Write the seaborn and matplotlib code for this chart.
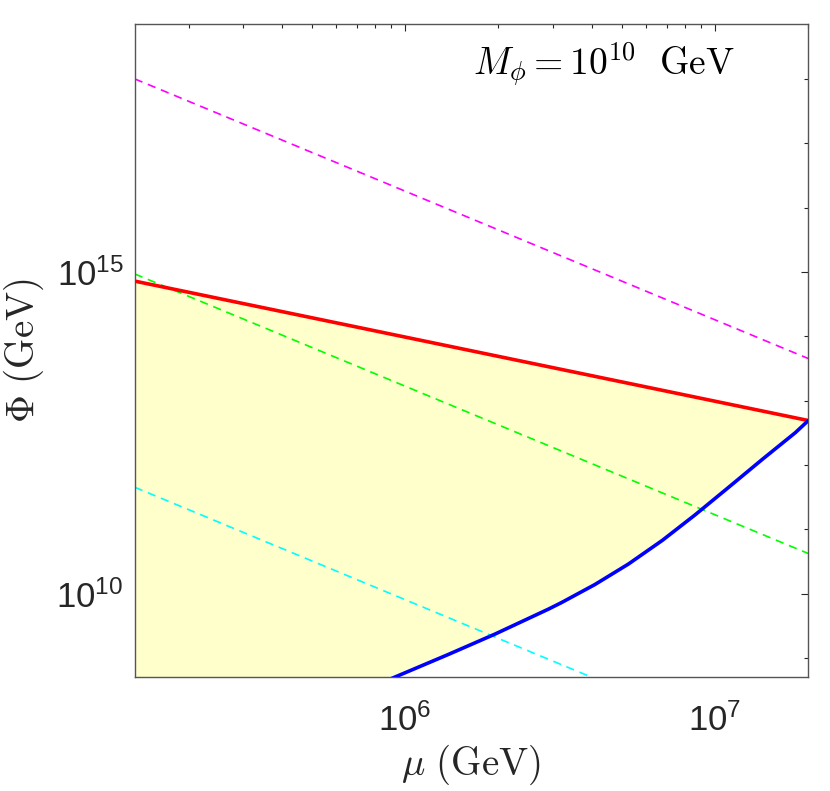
import numpy as np
import pandas as pd
import seaborn as sns
import matplotlib
matplotlib.use("Agg")
import matplotlib.pyplot as plt
import matplotlib.ticker as mticker

# axis ranges and ticks
mu_range = [1.34e5, 2.0e7]
phi_range = [5.0e8, 7.2e18]
x_major = [1e6, 1e7]
y_major = [1e10, 1e15]
y_minor = [1e9, 1e11, 1e12, 1e13, 1e14, 1e16, 1e17, 1e18]

# straight lines (end points at the axis edges)
mu_ends = [1.34e5, 2.0e7]
phi_red = [7.2e14, 4.9e12]
phi_magenta = [1.0e18, 4.5e13]
phi_green = [9.3e14, 4.2e10]
phi_cyan = [4.5e11, 2.0e7]

# blue bound
mu_blue = [8.9e5, 1.374e6, 1.945e6, 2.89e6, 3.19e6, 4.09e6, 5.25e6,
           6.76e6, 8.61e6, 1.104e7, 1.416e7, 1.816e7, 2.0e7]
phi_blue = [4.65e8, 1.127e9, 2.339e9, 5.70e9, 7.23e9, 1.38e10, 2.877e10,
            6.73e10, 1.667e11, 4.457e11, 1.205e12, 3.177e12, 4.9e12]

sns.set_theme(style="white")
plt.rcParams["font.family"] = ["Liberation Sans", "DejaVu Sans"]
plt.rcParams["mathtext.fontset"] = "custom"
plt.rcParams["mathtext.rm"] = "Liberation Sans"
plt.rcParams["mathtext.it"] = "Liberation Sans:italic"

fig = plt.figure(figsize=(8.3, 7.91), dpi=100)
ax = fig.add_axes([0.1623, 0.1437, 0.9739 - 0.1623, 0.970 - 0.1437])
ax.set_xscale("log")
ax.set_yscale("log")

# allowed region (light yellow)
poly_x = mu_ends + mu_blue[::-1] + [mu_ends[0]]
poly_y = phi_red + phi_blue[::-1] + [phi_blue[0]]
ax.fill(poly_x, poly_y, color="#FFFFCC", lw=0, zorder=1)

dash = (0, (5, 3.5))
lines = pd.DataFrame({"mu": mu_ends, "red": phi_red, "magenta": phi_magenta,
                      "green": phi_green, "cyan": phi_cyan})
for col, c in [("magenta", "#FF00FF"), ("green", "#00FF00"), ("cyan", "#00FFFF")]:
    sns.lineplot(data=lines, x="mu", y=col, color=c, lw=1.2, linestyle=dash,
                 estimator=None, ax=ax, zorder=2)
sns.lineplot(data=lines, x="mu", y="red", color="#FF0000", lw=2.6,
             estimator=None, ax=ax, zorder=3)
blue = pd.DataFrame({"mu": mu_blue, "phi": phi_blue})
sns.lineplot(data=blue, x="mu", y="phi", color="#0000FF", lw=2.6,
             estimator=None, ax=ax, zorder=3)

ax.set_xlim(mu_range)
ax.set_ylim(phi_range)

ax.xaxis.set_major_locator(mticker.FixedLocator(x_major))
ax.xaxis.set_minor_locator(mticker.LogLocator(base=10, subs=np.arange(2, 10)))
ax.xaxis.set_minor_formatter(mticker.NullFormatter())
ax.xaxis.set_major_formatter(mticker.LogFormatterSciNotation())
ax.yaxis.set_major_locator(mticker.FixedLocator(y_major))
ax.yaxis.set_minor_locator(mticker.FixedLocator(y_minor))
ax.yaxis.set_minor_formatter(mticker.NullFormatter())
ax.yaxis.set_major_formatter(mticker.LogFormatterSciNotation())

ax.tick_params(which="both", direction="in", top=True, right=True,
               color="#262626", width=0.8, labelcolor="#262626")
ax.tick_params(which="major", length=5, labelsize=25)
ax.tick_params(which="minor", length=3)
ax.tick_params(axis="x", which="major", pad=19)
ax.tick_params(axis="y", which="major", pad=8)
for s in ax.spines.values():
    s.set_color("#555555")
    s.set_linewidth(1.0)

ax.set_xlabel(r"$\mu\ \mathrm{(GeV)}$", fontsize=28, math_fontfamily="cm",
              color="#262626", va="center")
ax.xaxis.set_label_coords(0.5, -0.134)
ax.set_ylabel(r"$\Phi\ \mathrm{(GeV)}$", fontsize=28, math_fontfamily="cm",
              color="#262626", va="center")
ax.yaxis.set_label_coords(-0.165, 0.5)

ax.text(0.502, 0.92, r"$M_\phi = 10^{10}\ \ \mathrm{GeV}$", transform=ax.transAxes,
        fontsize=27, math_fontfamily="cm", ha="left", va="baseline", color="black")

fig.savefig("out.png", dpi=100)
